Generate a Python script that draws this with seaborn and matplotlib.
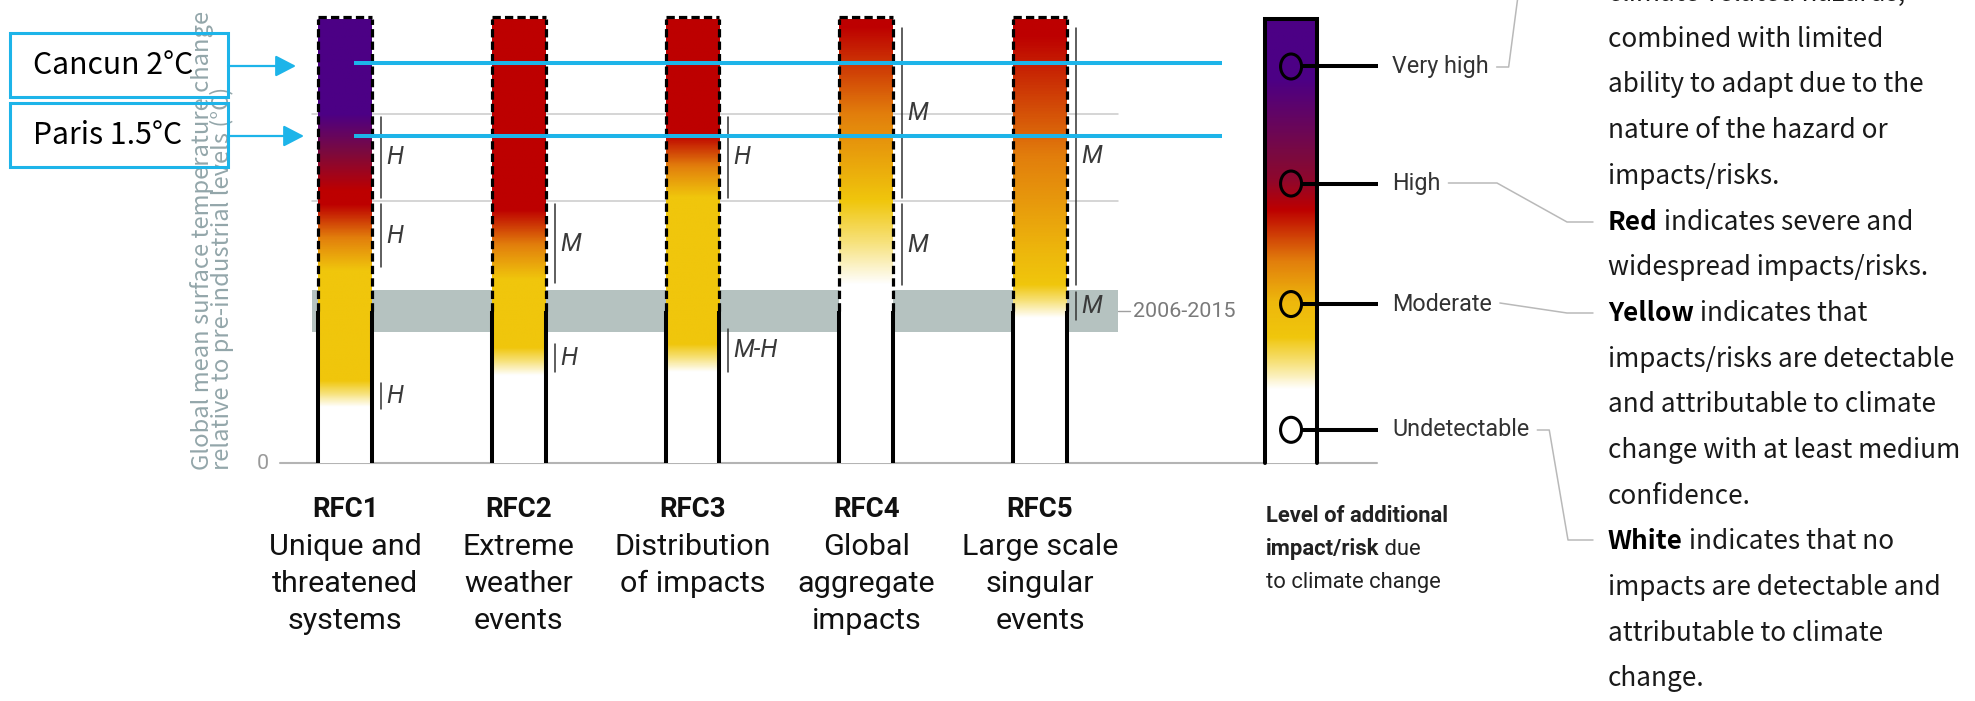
import numpy as np
import pandas as pd
import matplotlib
matplotlib.use("Agg")
import matplotlib.pyplot as plt
import seaborn as sns
from matplotlib.colors import LinearSegmentedColormap
from matplotlib.patches import Rectangle, Ellipse, FancyArrowPatch, ArrowStyle
from matplotlib.lines import Line2D

sns.set_theme(style="white")
SANS = ["Noto Sans CJK SC", "DejaVu Sans"]
COND = ["Liberation Sans Narrow", "Roboto", "DejaVu Sans"]
plt.rcParams["font.family"] = SANS

# ---------------- data ----------------
rfc_codes = ["RFC1", "RFC2", "RFC3", "RFC4", "RFC5"]
rfc_names = [["Unique and", "threatened", "systems"],
             ["Extreme", "weather", "events"],
             ["Distribution", "of impacts"],
             ["Global", "aggregate", "impacts"],
             ["Large scale", "singular", "events"]]

bar_top = 2.54            # °C, top of each burning ember
observed_warming = 0.87   # °C, 2006-2015 mean
obs_low, obs_high = 0.75, 0.99
grid_levels = [1.5, 2.0]

# risk level along each ember: 0 undetectable, 1 moderate, 2 high, 3 very high
rfc1_temp = [0.0, 0.32, 0.47, 1.10, 1.48, 1.56, 2.00, 2.60]
rfc1_level = [0, 0, 1, 1, 2, 2, 3, 3]
rfc2_temp = [0.0, 0.50, 0.66, 1.05, 1.45, 2.60]
rfc2_level = [0, 0, 1, 1, 2, 2]
rfc3_temp = [0.0, 0.52, 0.68, 1.52, 1.88, 2.60]
rfc3_level = [0, 0, 1, 1, 2, 2]
rfc4_temp = [0.0, 1.02, 1.50, 2.50, 2.60]
rfc4_level = [0, 0, 1, 2, 2]
rfc5_temp = [0.0, 0.83, 1.02, 1.20, 2.45, 2.60]
rfc5_level = [0, 0, 1, 1.1, 2, 2]

# confidence assessed for each transition
conf_rfc = [0, 0, 0, 1, 1, 2, 2, 3, 3, 4, 4]
conf_low = [1.52, 1.12, 0.31, 1.03, 0.52, 1.52, 0.52, 1.52, 1.02, 1.02, 0.82]
conf_high = [1.98, 1.48, 0.46, 1.48, 0.68, 1.98, 0.77, 2.49, 1.48, 2.49, 0.98]
conf_label = ["H", "H", "H", "M", "H", "H", "M-H", "M", "M", "M", "M"]

# policy targets
target_names = ["Cancun 2°C", "Paris 1.5°C"]
target_lines = [2.29, 1.87]

# legend scale
legend_levels = ["Very high", "High", "Moderate", "Undetectable"]
legend_marks = [2.27, 1.60, 0.91, 0.19]
legend_temp = [0.0, 0.42, 0.72, 0.92, 1.45, 1.62, 2.20, 2.60]
legend_level = [0, 0, 1, 1.1, 2, 2.35, 3, 3]

level_colors = ["#ffffff", "#f7e27c", "#f0c60c", "#e27e0c", "#bd0000", "#7c0a3e", "#4c0085"]

description = [
    [("climate-related hazards,", "normal")],
    [("combined with limited", "normal")],
    [("ability to adapt due to the", "normal")],
    [("nature of the hazard or", "normal")],
    [("impacts/risks.", "normal")],
    [("Red", "bold"), (" indicates severe and", "normal")],
    [("widespread impacts/risks.", "normal")],
    [("Yellow", "bold"), (" indicates that", "normal")],
    [("impacts/risks are detectable", "normal")],
    [("and attributable to climate", "normal")],
    [("change with at least medium", "normal")],
    [("confidence.", "normal")],
    [("White", "bold"), (" indicates that no", "normal")],
    [("impacts are detectable and", "normal")],
    [("attributable to climate", "normal")],
    [("change.", "normal")],
]

# ---------------- figure ----------------
W, H = 1975, 701
fig = plt.figure(figsize=(W / 100, H / 100), dpi=100)
ax = fig.add_axes([0, 0, 1, 1])
renderer = fig.canvas.get_renderer()

BLUE = "#1db4e9"
risk_cmap = LinearSegmentedColormap.from_list("risk", level_colors)


def FX(px):
    return px / W


def FY(py):
    return 1 - py / H


def size_for(s, target, **kw):
    t = fig.text(0, 0, s, fontsize=20, **kw)
    w = t.get_window_extent(renderer).width
    t.remove()
    return 20 * target / w


def gradient(temps, levels, top, n=700):
    y = np.linspace(0, top, n)
    lv = np.interp(y, temps, levels) / 3.0
    return risk_cmap(lv)[:, None, :]


# embers (white bodies; gradients are clipped to them below)
df = pd.DataFrame({"rfc": rfc_codes, "top": bar_top})
bar_w = 0.31
sns.barplot(data=df, x="rfc", y="top", width=bar_w, color="white", saturation=1,
            errorbar=None, edgecolor="none", linewidth=0, ax=ax, zorder=3)

# fixed scale: one category step = 173.75 px, 1 °C = 174.67 px
ax.set_xlim(-345 / 173.75, (W - 345) / 173.75)
ax.set_ylim((463 - H) / 174.67, 463 / 174.67)
ax.set_autoscale_on(False)
ax.axis("off")

# background: observed band, grid lines, baseline
band_x = [-0.19, 4.45]
ax.fill_between(band_x, obs_low, obs_high, color="#b5c2c0", lw=0, zorder=1)
for g in grid_levels:
    ax.plot(band_x, [g, g], color="#cacaca", lw=1.1, zorder=1)
ax.plot([-0.374, 5.94], [0, 0], color="#b4b4b4", lw=1.5, zorder=2)

profiles = [(rfc1_temp, rfc1_level), (rfc2_temp, rfc2_level), (rfc3_temp, rfc3_level),
            (rfc4_temp, rfc4_level), (rfc5_temp, rfc5_level)]
bar_patches = list(ax.patches)
for patch, (t, l) in zip(bar_patches, profiles):
    x0, w = patch.get_x(), patch.get_width()
    im = ax.imshow(gradient(t, l, bar_top), extent=[x0, x0 + w, 0, bar_top], origin="lower",
                   aspect="auto", interpolation="bilinear", zorder=3.5)
    im.set_clip_path(patch)
    xl, xr = x0, x0 + w
    dash = (0, (2.6, 1.3))
    for xe in (xl, xr):
        ax.plot([xe, xe], [0, observed_warming], color="black", lw=2.9,
                solid_capstyle="butt", zorder=5)
        ax.plot([xe, xe], [observed_warming, bar_top], color="black", lw=2.3,
                ls=dash, zorder=5)
    ax.plot([xl, xr], [bar_top + 0.015] * 2, color="black", lw=2.3, ls=dash, zorder=5)

# confidence brackets
conf_size = 1.2 * size_for("M-H", 37, family=COND, style="italic")
for r, lo, hi, lab in zip(conf_rfc, conf_low, conf_high, conf_label):
    xb = r + bar_w / 2 + 0.052
    ax.plot([xb, xb], [lo, hi], color="#333333", lw=1.1, zorder=5)
    ax.text(xb + 0.03, (lo + hi) / 2, lab, family=COND, style="italic",
            fontsize=conf_size, color="#3a3a3a", ha="left", va="center", zorder=6)

# observed period label
period_size = 1.15 * size_for("2006-2015", 89, family=COND)
ax.plot([4.45, 4.52], [observed_warming] * 2, color="#a0a0a0", lw=1.0, zorder=2)
ax.text(4.535, observed_warming, "2006-2015", family=COND, fontsize=period_size,
        color="#7a7a7a", ha="left", va="center")

# zero label
ax.text(-0.472, 0, "0", family=COND, fontsize=period_size, color="#9a9a9a",
        ha="center", va="center")

# y-axis title
ylab_size = size_for("Global mean surface temperature change", 460, family=SANS)
fig.text(FX(202), FY(470), "Global mean surface temperature change", rotation=90,
         rotation_mode="anchor", ha="left", va="center", color="#93a6aa",
         fontsize=ylab_size, family=SANS)
fig.text(FX(222), FY(470), "relative to pre-industrial levels (°C)", rotation=90,
         rotation_mode="anchor", ha="left", va="center", color="#93a6aa",
         fontsize=ylab_size, family=SANS)

# category labels
code_size = 1.15 * size_for("RFC1", 58, family=COND, weight="bold")
name_size = 1.17 * size_for("Unique and", 130, family=COND)
for i, (code, lines) in enumerate(zip(rfc_codes, rfc_names)):
    xf = FX(345 + 173.75 * i)
    fig.text(xf, FY(517), code, family=COND, weight="bold", fontsize=code_size,
             color="#111111", ha="center", va="baseline")
    for j, ln in enumerate(lines):
        fig.text(xf, FY(555 + 37 * j), ln, family=COND, fontsize=name_size,
                 color="#111111", ha="center", va="baseline")

# policy target lines and call-outs
box_size = size_for("Cancun 2°C", 160, family=SANS)
box_tops = [33, 103]
arrow_tips = [296, 304]
for name, val, top, tip in zip(target_names, target_lines, box_tops, arrow_tips):
    ax.plot([0.05, 5.05], [val, val], color=BLUE, lw=2.9, zorder=7, solid_capstyle="butt")
    fig.add_artist(Rectangle((FX(10), FY(top + 64)), 218 / W, 64 / H,
                             transform=fig.transFigure, fill=False, ec=BLUE, lw=2.2, zorder=8))
    fig.text(FX(33), FY(top + 32), name, family=SANS, fontsize=box_size,
             color="black", ha="left", va="center", zorder=9)
    fig.add_artist(FancyArrowPatch((FX(228), FY(top + 33)), (FX(tip), FY(top + 33)),
                                   transform=fig.transFigure,
                                   arrowstyle=ArrowStyle("-|>", head_length=1.25, head_width=0.65),
                                   mutation_scale=10, color=BLUE, lw=1.6,
                                   shrinkA=0, shrinkB=0, zorder=8))

# legend ember
leg_x = 5.445
leg_w = 0.30
leg_img = ax.imshow(gradient(legend_temp, legend_level, bar_top),
                    extent=[leg_x - leg_w / 2, leg_x + leg_w / 2, 0, bar_top],
                    origin="lower", aspect="auto", interpolation="bilinear", zorder=3)
ax.plot([leg_x - leg_w / 2, leg_x - leg_w / 2, leg_x + leg_w / 2, leg_x + leg_w / 2],
        [0, bar_top, bar_top, 0], color="black", lw=2.9, zorder=5, solid_joinstyle="miter")
legend_size = 1.2 * size_for("Moderate", 83, family=COND)
label_ends = []
for lab, t in zip(legend_levels, legend_marks):
    ax.add_patch(Ellipse((leg_x, t), 21 / 173.75, 25 / 174.67, fill=False, ec="black",
                         lw=2.2, zorder=6))
    ax.plot([leg_x + 10.5 / 173.75, 5.945], [t, t], color="black", lw=2.9, zorder=6,
            solid_capstyle="butt")
    txt = ax.text(6.026, t, lab, family=COND, fontsize=legend_size, color="#333333",
                  ha="left", va="center")
    label_ends.append(txt.get_window_extent(renderer).x1)

# leader lines from legend labels to description paragraphs
LEAD = "#b9b9b9"
leader_rows = [67, 183, 303, 430]
leader_paths = [
    [(None, 67), (1518, -4)],
    [(1497, 183), (1567, 222), (1593, 222)],
    [(1567, 313), (1593, 313)],
    [(None, 430), (1568, 540), (1593, 540)],
]
for x_end, row, path in zip(label_ends, leader_rows, leader_paths):
    x_start = x_end + 8
    pts = [(x_start, row)]
    for px, py in path:
        pts.append((x_start + 12 if px is None else px, py))
    fig.add_artist(Line2D([FX(p[0]) for p in pts], [FY(p[1]) for p in pts],
                          transform=fig.transFigure, color=LEAD, lw=1.1))

# legend caption
cap_size = 1.08 * size_for("Level of additional", 168, family=COND, weight="bold")
caption = [[("Level of additional", "bold")],
           [("impact/risk", "bold"), (" due", "normal")],
           [("to climate change", "normal")]]
for j, parts in enumerate(caption):
    xpx = 1266
    for s, wgt in parts:
        t = fig.text(FX(xpx), FY(522 + 33 * j), s, family=COND, weight=wgt,
                     fontsize=cap_size, color="#222222", ha="left", va="baseline")
        xpx += t.get_window_extent(renderer).width

# description text
body_size = size_for("impacts/risks are detectable", 347, family=SANS)
for k, parts in enumerate(description):
    xpx = 1608
    for s, wgt in parts:
        t = fig.text(FX(xpx), FY(1 + 45.7 * k), s, family=SANS, weight=wgt,
                     fontsize=body_size, color="black" if wgt == "bold" else "#1a1a1a",
                     ha="left", va="baseline")
        xpx += t.get_window_extent(renderer).width

fig.savefig("out.png", dpi=100, facecolor="white")
